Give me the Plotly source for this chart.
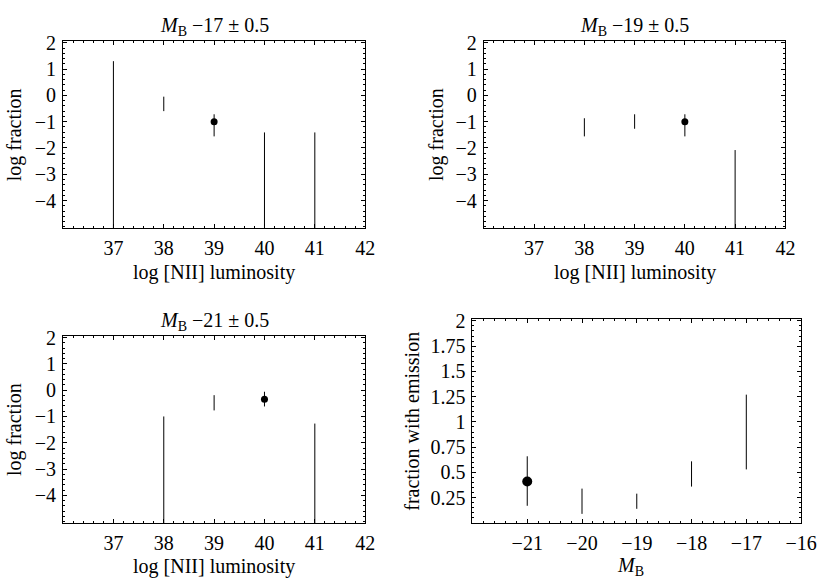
import plotly.graph_objects as go

# ---------------- data ----------------
# log [NII] luminosity panels: None in *_lo means an upper limit (line runs to the axis floor)
mb17_x = [37, 38, 39, 40, 41]
mb17_lo = [None, -0.60, -1.56, None, None]
mb17_hi = [1.30, -0.05, -0.72, -1.41, -1.41]
mb17_pt = [None, None, -1.00, None, None]

mb19_x = [38, 39, 40, 41]
mb19_lo = [-1.56, -1.27, -1.56, None]
mb19_hi = [-0.87, -0.72, -0.72, -2.08]
mb19_pt = [None, None, -1.00, None]

mb21_x = [38, 39, 40, 41]
mb21_lo = [None, -0.77, -0.62, None]
mb21_hi = [-1.00, -0.19, -0.06, -1.27]
mb21_pt = [None, None, -0.35, None]

# fraction with emission vs M_B
frac_x = [-21, -20, -19, -18, -17]
frac_lo = [0.17, 0.09, 0.14, 0.36, 0.53]
frac_hi = [0.66, 0.34, 0.29, 0.61, 1.27]
frac_pt = [0.41, None, None, None, None]

lum_ticks = [37, 38, 39, 40, 41, 42]
logf_ticks = [-4, -3, -2, -1, 0, 1, 2]
mb_ticks = [-21, -20, -19, -18, -17, -16]
frac_ticks = [0.25, 0.5, 0.75, 1, 1.25, 1.5, 1.75, 2]

titles = ["<i>M</i><sub>B</sub> \u221217 \u00b1 0.5",
          "<i>M</i><sub>B</sub> \u221219 \u00b1 0.5",
          "<i>M</i><sub>B</sub> \u221221 \u00b1 0.5"]

# ---------------- layout geometry ----------------
W, H = 836, 578
FONT = "Liberation Serif"
LOGF_RANGE = [-5.05, 2.05]
LUM_RANGE = [36, 42]
MB_RANGE = [-22, -16]
FRAC_RANGE = [0, 2.02]

def px_x(a, b):
    return [a / W, b / W]

def px_y(top, bottom):
    return [1 - bottom / H, 1 - top / H]

dom = {
    1: (px_x(64.3, 372.3), px_y(32, 222)),
    2: (px_x(493.3, 800.7), px_y(32, 222)),
    3: (px_x(64.3, 372.3), px_y(332, 522)),
    4: (px_x(481.7, 816.7), px_y(314.3, 522)),
}

fig = go.Figure()

def add_panel(i, xs, lo, hi, pt, floor, msize):
    lx, ly = [], []
    for x, a, b in zip(xs, lo, hi):
        lx += [x, x, None]
        ly += [floor if a is None else a, b, None]
    sfx = "" if i == 1 else str(i)
    fig.add_trace(go.Scatter(x=lx, y=ly, mode="lines",
                             line=dict(color="black", width=1),
                             xaxis="x" + sfx, yaxis="y" + sfx,
                             showlegend=False, hoverinfo="skip"))
    px_ = [x for x, p in zip(xs, pt) if p is not None]
    py_ = [p for p in pt if p is not None]
    fig.add_trace(go.Scatter(x=px_, y=py_, mode="markers",
                             marker=dict(color="black", size=msize),
                             xaxis="x" + sfx, yaxis="y" + sfx,
                             showlegend=False))

add_panel(1, mb17_x, mb17_lo, mb17_hi, mb17_pt, LOGF_RANGE[0] - 1, 7)
add_panel(2, mb19_x, mb19_lo, mb19_hi, mb19_pt, LOGF_RANGE[0] - 1, 7)
add_panel(3, mb21_x, mb21_lo, mb21_hi, mb21_pt, LOGF_RANGE[0] - 1, 7)
add_panel(4, frac_x, frac_lo, frac_hi, frac_pt, FRAC_RANGE[0], 10)

def axis(domain, rng, ticks, minor_dtick, anchor):
    return dict(domain=domain, range=rng, tickvals=ticks, anchor=anchor,
                showgrid=False, zeroline=False, showline=True, linecolor="black",
                linewidth=1, mirror="ticks", ticks="inside", ticklen=4,
                tickcolor="black", tickwidth=1,
                minor=dict(dtick=minor_dtick, tick0=0, ticks="inside", ticklen=2,
                           tickcolor="black", tickwidth=1, showgrid=False),
                tickfont=dict(family=FONT, size=20, color="black"),
                ticklabelstandoff=2)

lay = {}
for i in range(1, 5):
    sfx = "" if i == 1 else str(i)
    xd, yd = dom[i]
    if i < 4:
        lay["xaxis" + sfx] = axis(xd, LUM_RANGE, lum_ticks, 0.2, "y" + sfx)
        lay["yaxis" + sfx] = axis(yd, LOGF_RANGE, logf_ticks, 0.2, "x" + sfx)
    else:
        lay["xaxis" + sfx] = axis(xd, MB_RANGE, mb_ticks, 0.2, "y" + sfx)
        lay["yaxis" + sfx] = axis(yd, FRAC_RANGE, frac_ticks, 0.05, "x" + sfx)

def ann(text, x, y, angle=0):
    return dict(text=text, x=x / W, y=1 - y / H, xref="paper", yref="paper",
                xanchor="center", yanchor="middle", showarrow=False,
                textangle=angle, font=dict(family=FONT, size=20, color="black"))

annotations = [
    ann(titles[0], 218.3, 16.7),
    ann(titles[1], 647, 16.7),
    ann(titles[2], 218.3, 316.7),
    ann("log [NII] luminosity", 218.3, 266.7),
    ann("log [NII] luminosity", 647, 266.7),
    ann("log [NII] luminosity", 218.3, 566.7),
    ann("log fraction", 15, 126.7, -90),
    ann("log fraction", 445, 126.7, -90),
    ann("log fraction", 15, 426.7, -90),
    ann("fraction with emission", 420, 418, -90),
    ann("<i>M</i><sub>B</sub>", 643, 566),
]

fig.update_layout(width=W, height=H, margin=dict(l=0, r=0, t=0, b=0),
                  paper_bgcolor="white", plot_bgcolor="white",
                  annotations=annotations, **lay)

fig.write_html("out.html",
               config={"displayModeBar": False, "staticPlot": True},
               post_script="document.body.style.margin='0';"
                           "document.body.style.overflow='hidden';"
                           "var d=document.getElementById('{plot_id}');"
                           "d.style.position='absolute';d.style.top='0px';"
                           "d.style.left='0px';")
